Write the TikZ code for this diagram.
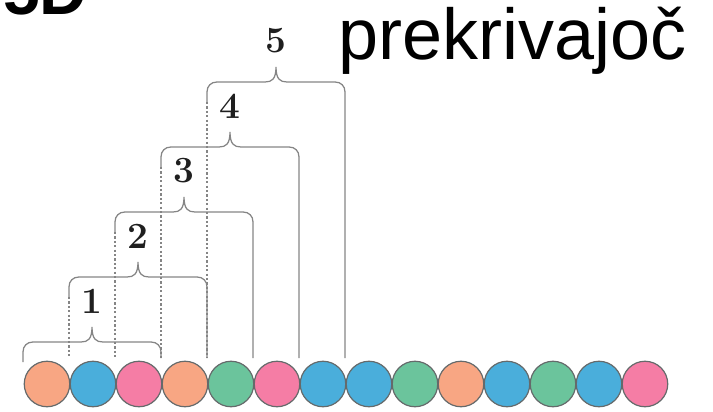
\documentclass[tikz,border=0pt]{standalone}
\usepackage{fontspec}
\newfontfamily\headfont{Liberation Sans}
\definecolor{beadorange}{HTML}{F8A683}
\definecolor{beadblue}{HTML}{4AAEDB}
\definecolor{beadpink}{HTML}{F57DA5}
\definecolor{beadgreen}{HTML}{6BC49C}
\definecolor{beadedge}{HTML}{656A6B}
\definecolor{linegray}{HTML}{858585}
\begin{document}
\begin{tikzpicture}[x=1pt,y=-1pt,
  bead/.style={circle, draw=beadedge, line width=1.2pt, minimum size=45.5pt, inner sep=0pt},
  bracket/.style={draw=linegray, line width=1.25pt},
  guide/.style={draw=linegray, line width=1.25pt, dash pattern=on 2.2pt off 2.2pt},
  num/.style={font=\fontsize{37}{37}\bfseries\selectfont, inner sep=0pt, text=black!88}]
\useasboundingbox (0,0) rectangle (713,412);
\clip (0,0) rectangle (713,412);

% heading text (top edge cut by the frame)
\node[anchor=base west, inner sep=0pt, font=\headfont\bfseries\fontsize{66}{66}\selectfont] (corner) at (3,15) {5D};
\node[anchor=base west, inner sep=0pt, font=\headfont\fontsize{72}{72}\selectfont] (title) at (338,60) {prekrivajoč};

% row of beads
\foreach \i/\c in {1/beadorange,2/beadblue,3/beadpink,4/beadorange,5/beadgreen,
                   6/beadpink,7/beadblue,8/beadblue,9/beadgreen,10/beadorange,
                   11/beadblue,12/beadgreen,13/beadblue,14/beadpink}
  \node[bead, fill=\c] (c\i) at ({47+(\i-1)*46},384) {};

% sliding windows of three beads, each with a curly bracket
\foreach \k in {1,...,5}{
  \pgfmathsetmacro{\xl}{23+(\k-1)*46}
  \pgfmathsetmacro{\xr}{\xl+138}
  \pgfmathsetmacro{\xm}{\xl+69}
  \pgfmathsetmacro{\yh}{342-65*(\k-1)}
  \coordinate (l\k) at (\xl,\yh+20);
  \coordinate (lb\k) at (\xl,358);
  \coordinate (rb\k) at (\xr,358);
  \coordinate (tip\k) at (\xm,\yh-15);
  \draw[bracket] (l\k) -- (\xl,\yh+10)
    .. controls (\xl,\yh+4) and (\xl+4,\yh) .. (\xl+10,\yh)
    -- (\xm-11,\yh)
    .. controls (\xm-4,\yh) and (\xm,\yh-3) .. (tip\k)
    .. controls (\xm,\yh-3) and (\xm+4,\yh) .. (\xm+11,\yh)
    -- (\xr-10,\yh)
    .. controls (\xr-4,\yh) and (\xr,\yh+4) .. (\xr,\yh+10)
    -- (rb\k);
  \node[num] (n\k) at (\xm,\yh-41) {\k};
}
% first bracket starts right above its bead
\draw[bracket] (l1) -- (23,362);
% dotted guides down from the other brackets' left ends
\foreach \k in {2,...,5}
  \draw[guide] (l\k) -- (lb\k);
\end{tikzpicture}
\end{document}
